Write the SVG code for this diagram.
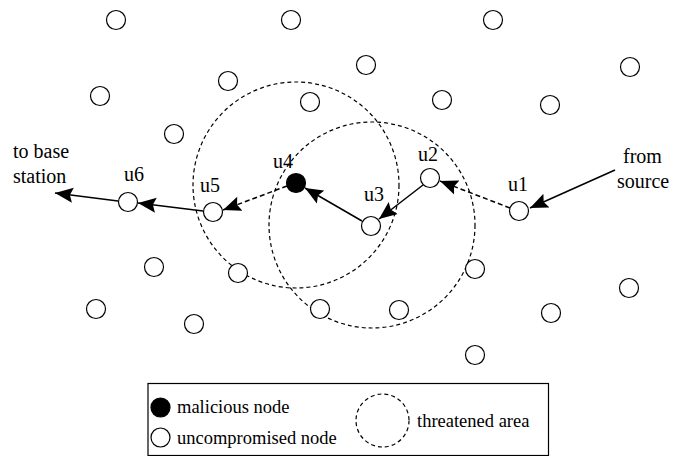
<svg xmlns="http://www.w3.org/2000/svg" width="685" height="456" viewBox="0 0 685 456">
<style>
.n{fill:#fff;stroke:#000;stroke-width:1.2}
.m{fill:#000;stroke:#000;stroke-width:1.2}
.area{fill:none;stroke:#000;stroke-width:1.2;stroke-dasharray:4 3}
.s{fill:none;stroke:#000;stroke-width:1.5}
.d{fill:none;stroke:#000;stroke-width:1.5;stroke-dasharray:5 3}
.lb{font-size:20px}
.lg{font-size:18.5px}
</style>
<defs>
<marker id="ah" markerWidth="20" markerHeight="16" refX="18" refY="8" orient="auto" markerUnits="userSpaceOnUse">
<path d="M18,8 L0,0.5 L3,8 L0,15.5 z" fill="#000"/>
</marker>
</defs>
<rect width="685" height="456" fill="#fff"/>
<g id="areas">
<circle class="area" cx="296" cy="185" r="103"/>
<circle class="area" cx="372" cy="225" r="103"/>
</g>
<g id="connectors">
<line class="s" x1="615" y1="170" x2="530" y2="208" marker-end="url(#ah)"/>
<line class="d" x1="510" y1="208" x2="440" y2="181" marker-end="url(#ah)"/>
<line class="s" x1="423" y1="185" x2="379" y2="219" marker-end="url(#ah)"/>
<line class="s" x1="362" y1="221" x2="305" y2="188" marker-end="url(#ah)"/>
<line class="d" x1="287" y1="186" x2="223" y2="210" marker-end="url(#ah)"/>
<line class="s" x1="203" y1="211" x2="138" y2="203" marker-end="url(#ah)"/>
<line class="s" x1="118" y1="201" x2="55" y2="193" marker-end="url(#ah)"/>
</g>
<g id="bg-nodes">
<circle class="n" cx="116" cy="20" r="9.5"/>
<circle class="n" cx="291" cy="20" r="9.5"/>
<circle class="n" cx="493" cy="20" r="9.5"/>
<circle class="n" cx="100" cy="96" r="9.5"/>
<circle class="n" cx="228" cy="81" r="9.5"/>
<circle class="n" cx="366" cy="65" r="9.5"/>
<circle class="n" cx="630" cy="67" r="9.5"/>
<circle class="n" cx="174" cy="134" r="9.5"/>
<circle class="n" cx="310" cy="102" r="9.5"/>
<circle class="n" cx="442" cy="100" r="9.5"/>
<circle class="n" cx="550" cy="105" r="9.5"/>
<circle class="n" cx="154" cy="267" r="9.5"/>
<circle class="n" cx="238" cy="273" r="9.5"/>
<circle class="n" cx="475" cy="269" r="9.5"/>
<circle class="n" cx="629" cy="288" r="9.5"/>
<circle class="n" cx="96" cy="309" r="9.5"/>
<circle class="n" cx="194" cy="324" r="9.5"/>
<circle class="n" cx="320" cy="309" r="9.5"/>
<circle class="n" cx="399" cy="310" r="9.5"/>
<circle class="n" cx="551" cy="313" r="9.5"/>
<circle class="n" cx="475" cy="355" r="9.5"/>
</g>
<g font-family="Liberation Serif, Times New Roman, serif" fill="#000">
<g id="u1"><circle class="n" cx="519" cy="211" r="9.5"/><text class="lb" x="508" y="191">u1</text></g>
<g id="u2"><circle class="n" cx="430" cy="178" r="9.5"/><text class="lb" x="418" y="161">u2</text></g>
<g id="u3"><circle class="n" cx="371" cy="226" r="9.5"/><text class="lb" x="364" y="201">u3</text></g>
<g id="u4"><circle class="m" cx="296" cy="183" r="9.5"/><text class="lb" x="273" y="168">u4</text></g>
<g id="u5"><circle class="n" cx="213" cy="212" r="9.5"/><text class="lb" x="200" y="192">u5</text></g>
<g id="u6"><circle class="n" cx="128" cy="202" r="9.5"/><text class="lb" x="124" y="181">u6</text></g>
<g id="source"><text class="lb" x="623" y="163">from</text><text class="lb" x="617" y="188">source</text></g>
<g id="base"><text class="lb" x="13" y="158">to base</text><text class="lb" x="13" y="183">station</text></g>
<g id="legend">
<rect x="148" y="383.5" width="400.5" height="72" fill="none" stroke="#000" stroke-width="1.2"/>
<circle class="m" cx="160.5" cy="407.5" r="9.5"/>
<text class="lg" x="177" y="413">malicious node</text>
<circle class="n" cx="160.5" cy="437.5" r="9.5"/>
<text class="lg" x="177" y="443.5">uncompromised node</text>
<circle class="area" cx="382.5" cy="420.5" r="26.5"/>
<text class="lg" x="417" y="426.5" font-size="19">threatened area</text>
</g>
</g>
</svg>
